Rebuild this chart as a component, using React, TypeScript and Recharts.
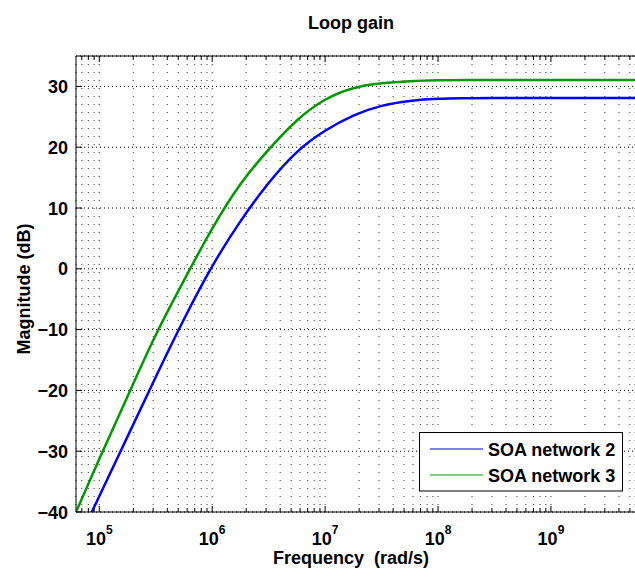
import React from 'react';
import { LineChart, Line, XAxis, YAxis, CartesianGrid } from 'recharts';

// ---- data ----
const freqs = [6.22e4, 1e5, 1.778e5, 3.162e5, 5.623e5, 1e6, 1.778e6, 3.162e6, 5.623e6, 1e7, 1.778e7, 3.162e7, 5.623e7, 1e8, 1.778e8, 3.162e8, 1e9, 5.55e9];
const soaNetwork2 = [-45.5, -37.4, -27.6, -17.8, -8.3, 0.4, 7.8, 14.1, 19.2, 22.7, 25.2, 26.8, 27.6, 27.95, 28.05, 28.1, 28.1, 28.1];
const soaNetwork3 = [-40.0, -31.3, -21.0, -10.9, -1.9, 6.6, 13.9, 19.6, 24.4, 27.8, 29.7, 30.5, 30.85, 31.0, 31.05, 31.05, 31.05, 31.05];

const seriesNames = ['SOA network 2', 'SOA network 3'];
const seriesColors = ['#0000ff', '#009900'];
const seriesKeys = ['s2', 's3'];

const xDomain = [6.22e4, 5.55e9];
const xMajorTicks = [1e5, 1e6, 1e7, 1e8, 1e9];
const xMajorExponents = ['5', '6', '7', '8', '9'];
const xTicks = [
  7e4, 8e4, 9e4,
  1e5, 2e5, 3e5, 4e5, 5e5, 6e5, 7e5, 8e5, 9e5,
  1e6, 2e6, 3e6, 4e6, 5e6, 6e6, 7e6, 8e6, 9e6,
  1e7, 2e7, 3e7, 4e7, 5e7, 6e7, 7e7, 8e7, 9e7,
  1e8, 2e8, 3e8, 4e8, 5e8, 6e8, 7e8, 8e8, 9e8,
  1e9, 2e9, 3e9, 4e9, 5e9,
];
const yDomain = [-40, 35];
const yTicks = [-40, -30, -20, -10, 0, 10, 20, 30];
const yTickLabels = ['−40', '−30', '−20', '−10', '0', '10', '20', '30'];

const titleText = 'Loop gain';
const xLabelText = 'Frequency  (rad/s)';
const yLabelText = 'Magnitude (dB)';

const data = freqs.map((f, i) => ({ f, s2: soaNetwork2[i], s3: soaNetwork3[i] }));

const FONT = '"Liberation Sans", Arial, Helvetica, sans-serif';

const majorIndex = (v: number) => xMajorTicks.findIndex((m) => Math.abs(m - v) / m < 1e-6);

const XTickBottom = (props: any) => {
  const { x, y, payload } = props;
  const idx = majorIndex(payload.value);
  const len = idx >= 0 ? 6 : 4;
  return (
    <g>
      <line x1={x} y1={y} x2={x} y2={y - len} stroke="#000" strokeWidth={1} />
      {idx >= 0 && (
        <text x={x} y={y + 33} textAnchor="middle" fontFamily={FONT} fontWeight="bold" fontSize={18} fill="#000">
          <tspan>10</tspan>
          <tspan dy={-11} fontSize={12}>{xMajorExponents[idx]}</tspan>
        </text>
      )}
    </g>
  );
};

const XTickTop = (props: any) => {
  const { x, y, payload } = props;
  const idx = majorIndex(payload.value);
  const len = idx >= 0 ? 6 : 4;
  return <line x1={x} y1={y} x2={x} y2={y + len} stroke="#000" strokeWidth={1} />;
};

const YTickLeft = (props: any) => {
  const { x, y, payload } = props;
  const idx = yTicks.indexOf(payload.value);
  return (
    <g>
      <line x1={x} y1={y} x2={x + 6} y2={y} stroke="#000" strokeWidth={1} />
      <text x={x - 8} y={y + 6.5} textAnchor="end" fontFamily={FONT} fontWeight="bold" fontSize={18} fill="#000">
        {idx >= 0 ? yTickLabels[idx] : payload.value}
      </text>
    </g>
  );
};

export default function App() {
  return (
    <div style={{ position: 'absolute', left: 0, top: 0, width: 635, height: 574, background: '#fff' }}>
      <LineChart width={635} height={574} data={data} margin={{ top: 0, right: 0, bottom: 0, left: 0 }}>
        <CartesianGrid vertical={false} stroke="#000" strokeDasharray="1 3" />
        <CartesianGrid horizontal={false} stroke="#333" strokeDasharray="1 7" />
        <XAxis
          dataKey="f"
          type="number"
          scale="log"
          domain={xDomain}
          allowDataOverflow
          ticks={xTicks}
          interval={0}
          height={62}
          tickSize={0}
          tickMargin={0}
          tickLine={false}
          axisLine={{ stroke: '#000', strokeWidth: 1 }}
          tick={<XTickBottom />}
        />
        <XAxis
          xAxisId="top"
          orientation="top"
          dataKey="f"
          type="number"
          scale="log"
          domain={xDomain}
          allowDataOverflow
          ticks={xTicks}
          interval={0}
          height={56}
          tickSize={0}
          tickMargin={0}
          tickLine={false}
          axisLine={{ stroke: '#000', strokeWidth: 1 }}
          tick={<XTickTop />}
        />
        <YAxis
          type="number"
          domain={yDomain}
          allowDataOverflow
          ticks={yTicks}
          interval={0}
          width={76}
          tickSize={0}
          tickMargin={0}
          tickLine={false}
          axisLine={{ stroke: '#000', strokeWidth: 1 }}
          tick={<YTickLeft />}
        />
        {seriesKeys.map((k, i) => (
          <Line
            key={k}
            dataKey={k}
            name={seriesNames[i]}
            type="natural"
            stroke={seriesColors[i]}
            strokeWidth={2.5}
            dot={false}
            activeDot={false}
            isAnimationActive={false}
          />
        ))}
      </LineChart>
      <svg width={635} height={574} style={{ position: 'absolute', left: 0, top: 0, pointerEvents: 'none' }}>
        <text x={351} y={29} textAnchor="middle" fontFamily={FONT} fontWeight="bold" fontSize={18} fill="#000">
          {titleText}
        </text>
        <text x={351} y={564} textAnchor="middle" fontFamily={FONT} fontWeight="bold" fontSize={18} fill="#000" style={{ whiteSpace: 'pre' }}>
          {xLabelText}
        </text>
        <text
          x={0}
          y={0}
          transform="translate(29.5,289) rotate(-90)"
          textAnchor="middle"
          fontFamily={FONT}
          fontWeight="bold"
          fontSize={18}
          fill="#000"
        >
          {yLabelText}
        </text>
        <g>
          <rect x={419.5} y={432.5} width={203} height={58.5} fill="#fff" stroke="#000" strokeWidth={1} />
          {seriesNames.map((n, i) => (
            <g key={n}>
              <line x1={430} y1={449 + i * 26} x2={483} y2={449 + i * 26} stroke={seriesColors[i]} strokeWidth={1} />
              <text x={488} y={455.5 + i * 26} fontFamily={FONT} fontWeight="bold" fontSize={18} fill="#000">
                {n}
              </text>
            </g>
          ))}
        </g>
      </svg>
    </div>
  );
}
